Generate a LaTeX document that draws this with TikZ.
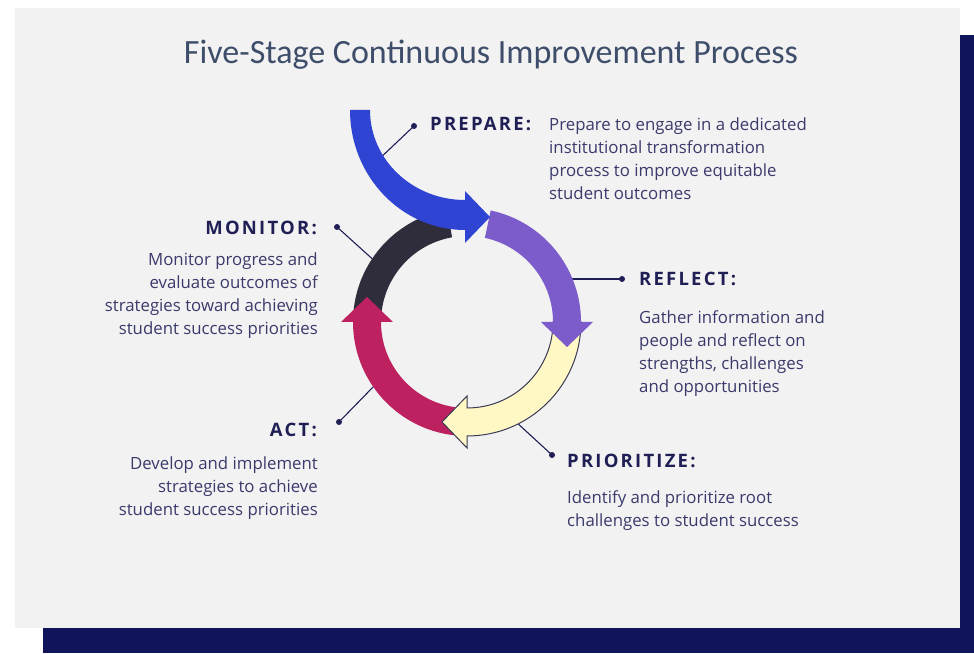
\documentclass[tikz,border=0pt]{standalone}
\usepackage{fontspec}
\setmainfont{Open Sans}
\newfontfamily\titlefont{Carlito}
\newfontfamily\stagefont{Open Sans}[LetterSpace=12]
\usetikzlibrary{calc}

\definecolor{shadownavy}{HTML}{10145A}
\definecolor{panelgrey}{HTML}{F2F2F2}
\definecolor{titleslate}{HTML}{3E4E6A}
\definecolor{labelnavy}{HTML}{1F1F55}
\definecolor{bodynavy}{HTML}{3A3A6C}
\definecolor{ringblue}{HTML}{2F44D2}
\definecolor{ringpurple}{HTML}{7C5CCB}
\definecolor{ringdark}{HTML}{2F2C3B}
\definecolor{ringred}{HTML}{BE2160}
\definecolor{ringyellow}{HTML}{FFF8C4}
\definecolor{yellowedge}{HTML}{3B3B58}

\tikzset{
  stagelabel/.style={font=\stagefont\bfseries\fontsize{18.5}{21}\selectfont, text=labelnavy, inner sep=0pt},
  stagetext/.style={font=\fontsize{16.8}{23}\selectfont, text=bodynavy, inner sep=0pt},
  leader/.style={draw=labelnavy, line width=1.1pt},
  leaddot/.style={circle, fill=labelnavy, inner sep=0pt, minimum size=6pt}
}

% ring piece with its head: style, from angle, to angle (clockwise)
\newcommand{\ringarrow}[3]{%
  \path[#1] ($(C)+(#2:114pt)$) arc[start angle=#2, end angle=#3, radius=114pt]
    -- ($(C)+(#3:126pt)$) -- ($(C)+(#3:100pt)+({#3-90}:25pt)$)
    -- ($(C)+(#3:74pt)$) -- ($(C)+(#3:86pt)$)
    arc[start angle=#3, end angle=#2, radius=86pt] -- cycle;}

\begin{document}
\begin{tikzpicture}[x=1pt, y=1pt]
	\path [use as bounding box] (0,0) rectangle (974,653);
	\fill[white] (0,0) rectangle (974,653);
	\fill[shadownavy] (43,0) rectangle (974,618);
	\fill[panelgrey] (15,25) rectangle (960,645);

	\coordinate (C) at (467,331);
	\coordinate (B) at (465,543);

	% leaders
	\coordinate (prepend) at (376,491);
	\coordinate (monend) at (378,389);
	\coordinate (reflend) at (560,374);
	\coordinate (actend) at (376,269);
	\coordinate (prioend) at (515,232);
	\node[leaddot] (prepdot) at (414,527) {};
	\node[leaddot] (mondot) at (337,426) {};
	\node[leaddot] (refldot) at (622,374) {};
	\node[leaddot] (actdot) at (339,231) {};
	\node[leaddot] (priodot) at (552,198) {};
	\draw[leader] (prepdot.center) -- (prepend);
	\draw[leader] (mondot.center) -- (monend);
	\draw[leader] (refldot.center) -- (reflend);
	\draw[leader] (actdot.center) -- (actend);
	\draw[leader] (priodot.center) -- (prioend);

	% the cycle
	\fill[ringdark] ($(C)+(180:114pt)$) arc[start angle=180, end angle=100, radius=114pt]
		-- ($(C)+(100:86pt)$) arc[start angle=100, end angle=180, radius=86pt] -- cycle;
	\ringarrow{fill=ringred}{-90}{-180}
	\ringarrow{fill=ringyellow, draw=yellowedge, line width=1pt}{0}{-90}
	\ringarrow{fill=ringpurple}{78}{0}

	% entry arrow
	\fill[ringblue] ($(B)+(180:115pt)$) arc[start angle=180, end angle=270, x radius=115pt, y radius=120pt]
		-- ($(B)+(0,-133)$) -- ($(B)+(25,-107)$) -- ($(B)+(0,-81)$) -- ($(B)+(0,-90)$)
		arc[start angle=270, end angle=180, x radius=95pt, y radius=90pt] -- cycle;

	\node[font=\titlefont\fontsize{34}{38}\selectfont, text=titleslate] (title) at (491,598) {Five-Stage Continuous Improvement Process};

	\node[stagelabel, anchor=west] (preplbl) at (430,529) {PREPARE:};
	\node[stagetext, anchor=north west, align=left] (preptxt) at (549,535)
		{Prepare to engage in a dedicated\\institutional transformation\\process to improve equitable\\student outcomes};

	\node[stagelabel, anchor=east] (monlbl) at (317,425) {MONITOR:};
	\node[stagetext, anchor=north east, align=right] (montxt) at (318,400)
		{Monitor progress and\\evaluate outcomes of\\strategies toward achieving\\student success priorities};

	\node[stagelabel, anchor=west] (refllbl) at (639,374) {REFLECT:};
	\node[stagetext, anchor=north west, align=left] (refltxt) at (639,343)
		{Gather information and\\people and reflect on\\strengths, challenges\\and opportunities};

	\node[stagelabel, anchor=east] (actlbl) at (317,223) {ACT:};
	\node[stagetext, anchor=north east, align=right] (acttxt) at (318,196)
		{Develop and implement\\strategies to achieve\\student success priorities};

	\node[stagelabel, anchor=west] (priolbl) at (567,192) {PRIORITIZE:};
	\node[stagetext, anchor=north west, align=left] (priotxt) at (567,163)
		{Identify and prioritize root\\challenges to student success};
\end{tikzpicture}
\end{document}
